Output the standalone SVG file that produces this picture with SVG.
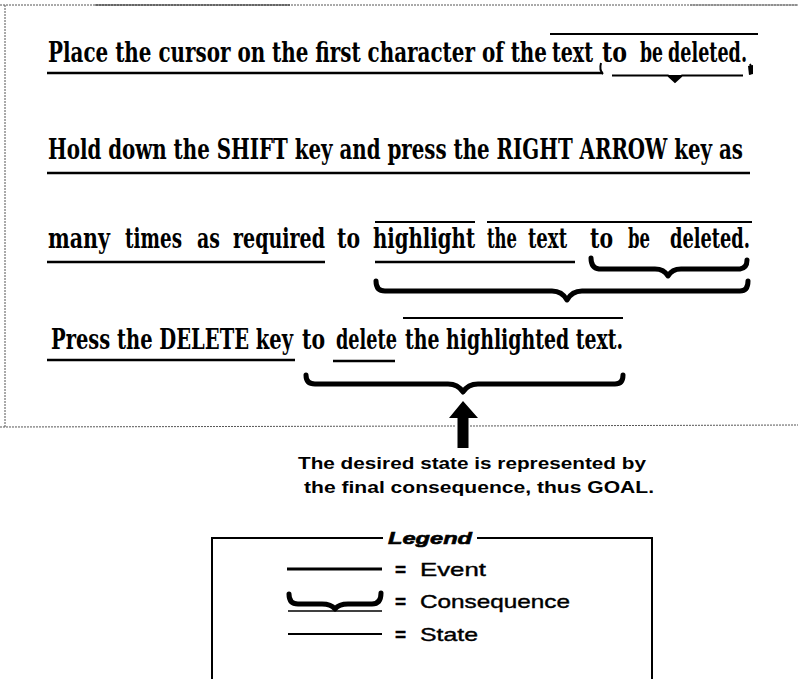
<svg xmlns="http://www.w3.org/2000/svg" width="798" height="679" viewBox="0 0 798 679">
<style>
.t{font-family:"DejaVu Serif Condensed","DejaVu Serif",serif;font-size:27px;font-weight:bold;fill:#000}
.s{font-family:"Liberation Sans",Arial,sans-serif;fill:#000}
.lg{font-size:19px;stroke:#000;stroke-width:0.4}
.ev{stroke:#000;stroke-width:2.5;fill:none}
.st{stroke:#000;stroke-width:2;fill:none}
.cq{stroke:#000;stroke-width:5;fill:none;stroke-linejoin:round;stroke-linecap:round}
.frame{stroke:#555;stroke-width:1;fill:none;stroke-dasharray:2 1}
</style>
<rect width="798" height="679" fill="#fff"/>
<g id="frame">
<line class="frame" x1="0" y1="5" x2="798" y2="5"/>
<line x1="95" y1="5" x2="290" y2="5" stroke="#222" stroke-width="1.2"/>
<line x1="690" y1="5" x2="798" y2="5" stroke="#777" stroke-width="1.2"/>
<line class="frame" x1="5" y1="5" x2="5" y2="427" stroke-dasharray="3 2"/>
<line class="frame" x1="0" y1="427" x2="455" y2="426"/>
<line class="frame" x1="470" y1="426" x2="798" y2="425"/>
</g>
<g id="text-lines" transform="scale(0.72,1)">
<text class="t" x="66.67" y="62" textLength="693.06" lengthAdjust="spacingAndGlyphs">Place the cursor on the first character of the</text>
<text class="t" x="766.67" y="62" textLength="56.94" lengthAdjust="spacingAndGlyphs">text</text>
<text class="t" x="836.11" y="62" textLength="34.72" lengthAdjust="spacingAndGlyphs">to</text>
<text class="t" x="888.89" y="62" textLength="31.94" lengthAdjust="spacingAndGlyphs">be</text>
<text class="t" x="927.78" y="62" textLength="109.72" lengthAdjust="spacingAndGlyphs">deleted.</text>

<text class="t" x="66.67" y="159" textLength="965.28" lengthAdjust="spacingAndGlyphs">Hold down the SHIFT key and press the RIGHT ARROW key as</text>

<text class="t" x="66.67" y="248" textLength="86.11" lengthAdjust="spacingAndGlyphs">many</text>
<text class="t" x="173.61" y="248" textLength="79.17" lengthAdjust="spacingAndGlyphs">times</text>
<text class="t" x="273.61" y="248" textLength="31.94" lengthAdjust="spacingAndGlyphs">as</text>
<text class="t" x="323.61" y="248" textLength="127.78" lengthAdjust="spacingAndGlyphs">required</text>
<text class="t" x="468.06" y="248" textLength="31.94" lengthAdjust="spacingAndGlyphs">to</text>
<text class="t" x="518.06" y="248" textLength="141.67" lengthAdjust="spacingAndGlyphs">highlight</text>
<text class="t" x="676.39" y="248" textLength="41.67" lengthAdjust="spacingAndGlyphs">the</text>
<text class="t" x="733.33" y="248" textLength="54.17" lengthAdjust="spacingAndGlyphs">text</text>
<text class="t" x="819.44" y="248" textLength="31.94" lengthAdjust="spacingAndGlyphs">to</text>
<text class="t" x="872.22" y="248" textLength="30.56" lengthAdjust="spacingAndGlyphs">be</text>
<text class="t" x="930.56" y="248" textLength="111.11" lengthAdjust="spacingAndGlyphs">deleted.</text>

<text class="t" x="70.83" y="349" textLength="336.11" lengthAdjust="spacingAndGlyphs">Press the DELETE key</text>
<text class="t" x="419.44" y="349" textLength="31.94" lengthAdjust="spacingAndGlyphs">to</text>
<text class="t" x="466.67" y="349" textLength="84.72" lengthAdjust="spacingAndGlyphs">delete</text>
<text class="t" x="562.5" y="349" textLength="302.78" lengthAdjust="spacingAndGlyphs">the highlighted text.</text>
</g>
<g id="connectors">
<line class="ev" x1="47" y1="73" x2="603" y2="73"/>
<line class="st" x1="550" y1="34" x2="758" y2="34"/>
<path d="M601 63 Q599 70 603 74 M612 75.5 L668 75.5 L675 82 L682 75.5 L743 75.5 M750 64 Q753 70 750 74" stroke="#000" stroke-width="2" fill="none"/>
<path d="M668 75 L682 75 L675 82 Z" fill="#000"/>
<path d="M748 66 L753 65 L753 74 L749 75 Z" fill="#000"/>

<line class="ev" x1="47" y1="173" x2="750" y2="173"/>

<line class="st" x1="375" y1="222" x2="475" y2="222"/>
<line class="st" x1="487" y1="222" x2="752" y2="222"/>
<line class="ev" x1="47" y1="262" x2="325" y2="262"/>
<line class="ev" x1="375" y1="262" x2="575" y2="262"/>
<path class="cq" d="M591 258 Q591 268 599 269 L655 269 Q664 269 668 276 Q672 269 681 269 L740 269 Q747 268 747 260" stroke-width="4.5"/>
<path class="cq" d="M376 281 Q376 291 385 291 L552 291 Q562 291 567 300 Q572 291 582 291 L740 291 Q748 291 748 281"/>

<line class="st" x1="403" y1="318" x2="623" y2="318"/>
<line class="ev" x1="47" y1="360" x2="295" y2="360"/>
<line class="ev" x1="333" y1="361" x2="395" y2="361"/>
<path class="cq" d="M306 375 Q306 384 315 384 L448 384 Q458 384 463 392 Q468 384 478 384 L615 384 Q623 384 623 375"/>

<path d="M463 401 L478 418 L468.5 418 L468.5 448 L457.5 448 L457.5 418 L449 418 Z" fill="#000"/>
</g>
<g id="goal-note">
<text class="s" x="298" y="469" font-size="17" font-weight="bold" textLength="348" lengthAdjust="spacingAndGlyphs">The desired state is represented by</text>
<text class="s" x="304" y="493" font-size="17" font-weight="bold" textLength="350" lengthAdjust="spacingAndGlyphs">the final consequence, thus GOAL.</text>
</g>
<g id="legend">
<path d="M212 679 L212 538 L383 538 M477 538 L652 538 L652 679" stroke="#000" stroke-width="2" fill="none"/>
<text class="s" x="388" y="544" font-size="17" font-weight="bold" font-style="italic" stroke="#000" stroke-width="0.6" textLength="84" lengthAdjust="spacingAndGlyphs">Legend</text>
<line x1="287" y1="569" x2="382" y2="569" stroke="#000" stroke-width="3"/>
<text class="s lg" x="395" y="576" font-weight="bold">=</text>
<text class="s lg" x="420" y="576" textLength="66" lengthAdjust="spacingAndGlyphs">Event</text>
<path class="cq" d="M289 594 Q289 604 298 604 L322 604 Q331 604 335 609 Q339 604 348 604 L372 604 Q381 604 381 593" stroke-width="6"/>
<line x1="288" y1="611" x2="382" y2="611" stroke="#000" stroke-width="1.5"/>
<text class="s lg" x="395" y="608" font-weight="bold">=</text>
<text class="s lg" x="420" y="608" textLength="150" lengthAdjust="spacingAndGlyphs">Consequence</text>
<line x1="288" y1="634" x2="382" y2="634" stroke="#000" stroke-width="2"/>
<text class="s lg" x="395" y="641" font-weight="bold">=</text>
<text class="s lg" x="420" y="641" textLength="58" lengthAdjust="spacingAndGlyphs">State</text>
</g>
</svg>
